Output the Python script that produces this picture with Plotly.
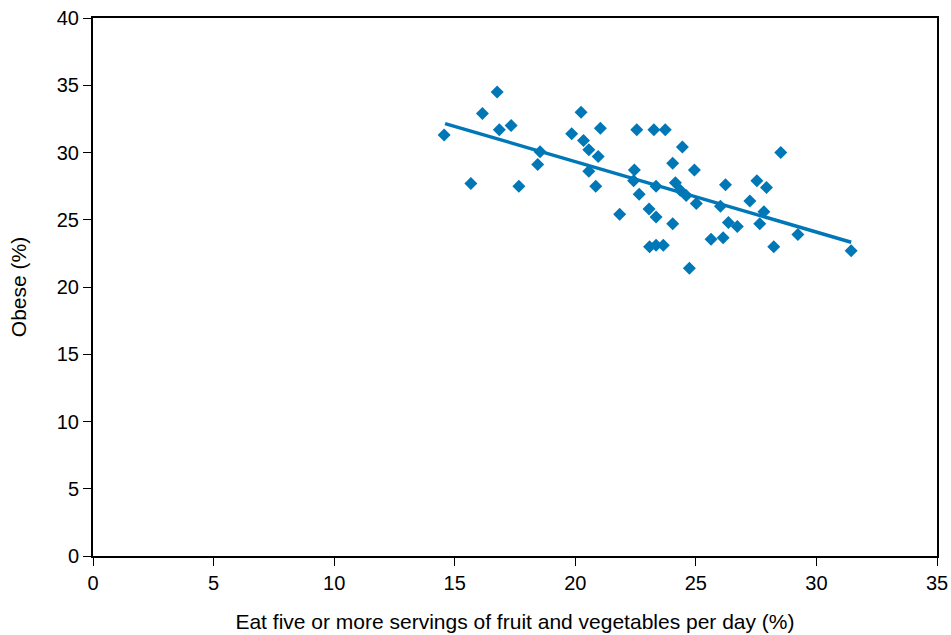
import plotly.graph_objects as go

fruit_veg = [14.56, 15.67, 16.15, 16.76, 16.85, 17.34, 17.66, 18.44, 18.54, 19.85,
             20.24, 20.34, 20.56, 20.95, 21.04, 20.56, 20.85, 21.84, 22.45, 22.42,
             22.55, 22.65, 23.06, 23.35, 23.35, 23.26, 23.73, 23.08, 23.35, 23.65,
             24.04, 24.44, 24.04, 24.15, 24.35, 24.60, 24.94, 25.02, 24.73, 25.63,
             26.13, 26.02, 26.23, 26.35, 26.72, 27.24, 27.53, 27.82, 27.65, 27.93,
             28.23, 28.52, 29.23, 31.44]
obese = [31.3, 27.7, 32.9, 34.5, 31.7, 32.0, 27.5, 29.1, 30.05, 31.4,
         33.0, 30.9, 30.2, 29.7, 31.8, 28.6, 27.5, 25.4, 28.7, 27.9,
         31.7, 26.9, 25.8, 25.2, 27.5, 31.7, 31.7, 23.0, 23.1, 23.1,
         24.7, 30.4, 29.2, 27.75, 27.2, 26.8, 28.7, 26.2, 21.4, 23.55,
         23.66, 26.0, 27.6, 24.8, 24.5, 26.4, 27.9, 25.6, 24.7, 27.4,
         23.0, 30.0, 23.9, 22.7]
trend_x = [14.6, 31.44]
trend_y = [32.15, 23.33]

x_ticks = [0, 5, 10, 15, 20, 25, 30, 35]
y_ticks = [0, 5, 10, 15, 20, 25, 30, 35, 40]

blue = "#0077b6"
FONT = "Liberation Sans, Arial, sans-serif"

fig = go.Figure()
fig.add_trace(go.Scatter(x=trend_x, y=trend_y, mode="lines",
                         line=dict(color=blue, width=3.5), showlegend=False,
                         hoverinfo="skip"))
fig.add_trace(go.Scatter(x=fruit_veg, y=obese, mode="markers",
                         marker=dict(symbol="diamond", size=10, color=blue),
                         showlegend=False))

axis_common = dict(showline=True, linecolor="black", linewidth=2, mirror=True,
                   ticks="outside", ticklen=8, tickwidth=1, tickcolor="black",
                   showgrid=False, zeroline=False, automargin=False,
                   tickfont=dict(family=FONT, size=20, color="black"))

fig.update_xaxes(range=[0, 35], tickvals=x_ticks, **axis_common,
                 title=dict(text="Eat five or more servings of fruit and vegetables per day (%)",
                            font=dict(family=FONT, size=21, color="black"),
                            standoff=21))
fig.update_yaxes(range=[0, 40], tickvals=y_ticks, **axis_common,
                 title=dict(text="Obese (%)",
                            font=dict(family=FONT, size=21, color="black"),
                            standoff=24))

fig.update_layout(width=951, height=635,
                  margin=dict(l=93, r=14, t=18, b=79),
                  plot_bgcolor="white", paper_bgcolor="white",
                  font=dict(family=FONT, color="black"))

fig.write_html("out.html", config={"displayModeBar": False},
               post_script="document.body.style.margin='0';document.body.style.overflow='hidden';")
